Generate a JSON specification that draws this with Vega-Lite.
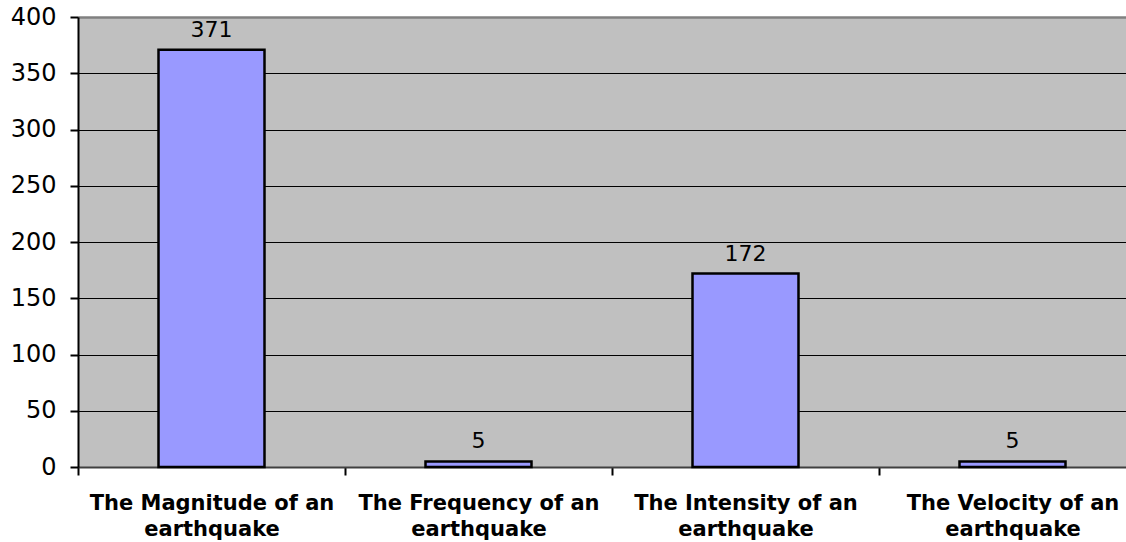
{
  "$schema": "https://vega.github.io/schema/vega-lite/v6.json",
  "autosize": {"type": "none"},
  "padding": {"left": 78, "top": 17, "right": 0, "bottom": 75},
  "width": 1068,
  "height": 450,
  "background": "white",
  "config": {
    "view": {"fill": "#C0C0C0", "stroke": null},
    "font": "DejaVu Sans"
  },
  "data": {
    "values": [
      {"question": "The Magnitude of an|earthquake", "count": 371},
      {"question": "The Frequency of an|earthquake", "count": 5},
      {"question": "The Intensity of an|earthquake", "count": 172},
      {"question": "The Velocity of an|earthquake", "count": 5}
    ]
  },
  "encoding": {
    "x": {
      "field": "question",
      "type": "nominal",
      "sort": null,
      "scale": {"paddingInner": 0, "paddingOuter": 0},
      "axis": {
        "title": null,
        "labelAngle": 0,
        "labelExpr": "split(datum.label, '|')",
        "labelFont": "DejaVu Sans",
        "labelFontWeight": "bold",
        "labelFontSize": 21,
        "labelLimit": 0,
        "labelColor": "black",
        "labelLineHeight": 26,
        "labelPadding": 17,
        "tickBand": "extent",
        "tickSize": 8,
        "tickColor": "black",
        "tickWidth": 2,
        "domainColor": "#404040",
        "domainWidth": 2
      }
    },
    "y": {
      "field": "count",
      "type": "quantitative",
      "scale": {"domain": [0, 400], "nice": false},
      "axis": {
        "title": null,
        "values": [0, 50, 100, 150, 200, 250, 300, 350, 400],
        "labelFont": "DejaVu Sans",
        "labelFontSize": 24,
        "labelColor": "black",
        "labelPadding": 14,
        "tickSize": 8,
        "tickColor": "black",
        "tickWidth": 2,
        "domainColor": "black",
        "domainWidth": 2,
        "grid": true,
        "gridColor": {"condition": {"test": "datum.value === 400", "value": "#808080"}, "value": "black"},
        "gridWidth": {"condition": {"test": "datum.value === 400", "value": 2.5}, "value": 1.2},
        "gridOpacity": 1
      }
    }
  },
  "layer": [
    {
      "mark": {"type": "bar", "fill": "#9999FF", "stroke": "black", "strokeWidth": 2.5, "width": {"band": 0.397}}
    },
    {
      "mark": {"type": "text", "baseline": "alphabetic", "dy": -13, "fontSize": 22, "font": "DejaVu Sans", "color": "black"},
      "encoding": {"text": {"field": "count", "type": "quantitative"}}
    }
  ]
}
